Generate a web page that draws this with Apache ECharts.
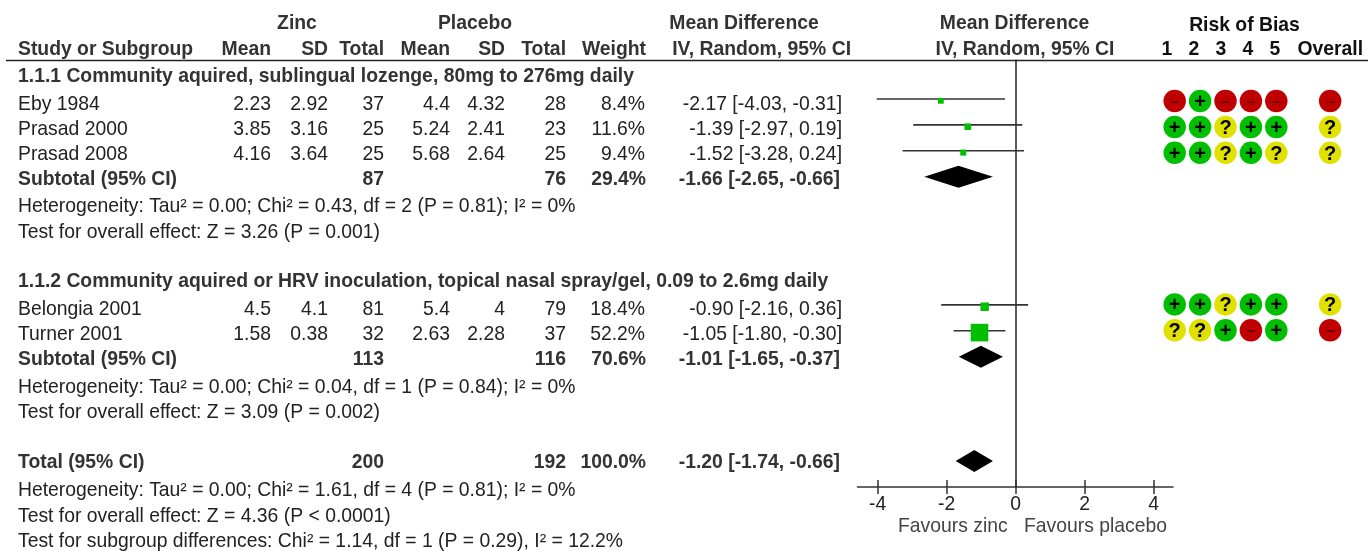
<!DOCTYPE html>
<html><head><meta charset="utf-8">
<style>html,body{margin:0;padding:0;background:#fff}#c{width:1368px;height:551px}</style>
<script src="https://cdn.jsdelivr.net/npm/echarts@6/dist/echarts.min.js"></script>
</head><body><div id="c"></div>
<script>
// ---------- data ----------
const studies = ['Eby 1984','Prasad 2000','Prasad 2008','Belongia 2001','Turner 2001'];
const zincMean = ['2.23','3.85','4.16','4.5','1.58'];
const zincSD = ['2.92','3.16','3.64','4.1','0.38'];
const zincTotal = ['37','25','25','81','32'];
const placeboMean = ['4.4','5.24','5.68','5.4','2.63'];
const placeboSD = ['4.32','2.41','2.64','4','2.28'];
const placeboTotal = ['28','23','25','79','37'];
const weights = [8.4,11.6,9.4,18.4,52.2];
const md = [-2.17,-1.39,-1.52,-0.90,-1.05];
const ciLow = [-4.03,-2.97,-3.28,-2.16,-1.80];
const ciHigh = [-0.31,0.19,0.24,0.36,-0.30];
const ciText = ['-2.17 [-4.03, -0.31]','-1.39 [-2.97, 0.19]','-1.52 [-3.28, 0.24]','-0.90 [-2.16, 0.36]','-1.05 [-1.80, -0.30]'];
const studyRows = [0,1,2,7.95,8.95];
const summaryLabels = ['Subtotal (95% CI)','Subtotal (95% CI)','Total (95% CI)'];
const summaryZinc = ['87','113','200'];
const summaryPlacebo = ['76','116','192'];
const summaryWeight = ['29.4%','70.6%','100.0%'];
const summaryMd = [-1.66,-1.01,-1.20];
const summaryLow = [-2.65,-1.65,-1.74];
const summaryHigh = [-0.66,-0.37,-0.66];
const summaryText = ['-1.66 [-2.65, -0.66]','-1.01 [-1.65, -0.37]','-1.20 [-1.74, -0.66]'];
const summaryRows = [3,9.95,13.98];
const groupTitles = ['1.1.1 Community aquired, sublingual lozenge, 80mg to 276mg daily','1.1.2 Community aquired or HRV inoculation, topical nasal spray/gel, 0.09 to 2.6mg daily'];
const notes = ['Heterogeneity: Tau² = 0.00; Chi² = 0.43, df = 2 (P = 0.81); I² = 0%','Test for overall effect: Z = 3.26 (P = 0.001)','Heterogeneity: Tau² = 0.00; Chi² = 0.04, df = 1 (P = 0.84); I² = 0%','Test for overall effect: Z = 3.09 (P = 0.002)','Heterogeneity: Tau² = 0.00; Chi² = 1.61, df = 4 (P = 0.81); I² = 0%','Test for overall effect: Z = 4.36 (P < 0.0001)','Test for subgroup differences: Chi² = 1.14, df = 1 (P = 0.29), I² = 12.2%'];
const axisTicks = [-4,-2,0,2,4];
const robHeaders = ['1','2','3','4','5','Overall'];
const robColumns = [1,2,3,4,5,7.12];
const robRows = [0.08,1.08,2.08,7.93,8.93];
const robJudgements = [
  ['-','+','-','-','-','-'],
  ['+','+','?','+','+','?'],
  ['+','+','?','+','?','?'],
  ['+','+','?','+','+','?'],
  ['?','?','+','-','+','-']
];
// ---------- layout ----------
const FONT = '"Liberation Sans", Arial, sans-serif';
const FS = 19.35;
const TXT = '#222', BOLD = '#333';
const ROW_PITCH = 25.9, ROW0 = 99, GRID_TOP = 60, GRID_BOTTOM = 487;
const rowMin = (GRID_TOP-ROW0)/ROW_PITCH, rowMax = (GRID_BOTTOM-ROW0)/ROW_PITCH;
const textStudyY = [105,130,155,310,335];
const textSummaryY = [179.5,359.5,462.5];
const textNoteY = [207,233,388,413,491,517,542];
const textGroupY = [76.5,281.5];
const colRight = {zm:271,zs:328,zt:384,pm:450,ps:505,pt:566,w:646,ci:842};
const els = [];
function t(s,x,y,align,bold,color,size){
  els.push({type:'text',silent:true,x:x,y:y,style:{text:s,x:0,y:0,align:align||'left',verticalAlign:'middle',
    font:(bold?'bold ':'')+(size||FS)+'px '+FONT,fill:color||(bold?BOLD:TXT)}});
}
// header
t('Zinc',297,23.5,'center',true); t('Placebo',475,23.5,'center',true);
t('Mean Difference',744,23.5,'center',true); t('Mean Difference',1014.5,23.5,'center',true);
t('Risk of Bias',1244.5,26,'center',true,'#111');
t('Study or Subgroup',18,49.5,'left',true);
[['Mean',colRight.zm],['SD',colRight.zs],['Total',colRight.zt],['Mean',colRight.pm],['SD',colRight.ps],['Total',colRight.pt],['Weight',646]]
  .forEach(h=>t(h[0],h[1],49.5,'right',true));
t('IV, Random, 95% CI',851,49.5,'right',true); t('IV, Random, 95% CI',1025,49.5,'center',true);
robHeaders.forEach((h,i)=>t(h,i<5?1167+i*27:1363,50,i<5?'center':'right',true,'#111'));
// group titles
groupTitles.forEach((g,i)=>t(g,18,textGroupY[i],'left',true));
// studies
studies.forEach((s,i)=>{const y=textStudyY[i];
  t(s,18,y);
  t(zincMean[i],colRight.zm,y,'right'); t(zincSD[i],colRight.zs,y,'right'); t(zincTotal[i],colRight.zt,y,'right');
  t(placeboMean[i],colRight.pm,y,'right'); t(placeboSD[i],colRight.ps,y,'right'); t(placeboTotal[i],colRight.pt,y,'right');
  t(weights[i].toFixed(1)+'%',colRight.w-1,y,'right'); t(ciText[i],colRight.ci,y,'right');
});
summaryLabels.forEach((s,i)=>{const y=textSummaryY[i];
  t(s,18,y,'left',true); t(summaryZinc[i],colRight.zt,y,'right',true); t(summaryPlacebo[i],colRight.pt,y,'right',true);
  t(summaryWeight[i],colRight.w,y,'right',true); t(summaryText[i],840,y,'right',true);
});
notes.forEach((n,i)=>t(n,18,textNoteY[i]));
t('Favours zinc',898,527,'left',false,'#444'); t('Favours placebo',1024,527,'left',false,'#444');
// header rule
els.push({type:'line',silent:true,shape:{x1:6,y1:60.5,x2:1368,y2:60.5},style:{stroke:'#222',lineWidth:1.6}});

const robColor = {'+':'#00bf00','?':'#e1e100','-':'#c00000'};
const robData=[];
robJudgements.forEach((r,ri)=>r.forEach((j,ci)=>robData.push([robColumns[ci],robRows[ri],j])));

const option = {
  animation:false,
  backgroundColor:'#fff',
  textStyle:{fontFamily:FONT},
  graphic:{elements:els},
  grid:[
    {left:857.5,width:315.5,top:GRID_TOP,height:GRID_BOTTOM-GRID_TOP,containLabel:false},
    {left:1174.7-25.4*0.5,width:25.4*7.12,top:GRID_TOP,height:GRID_BOTTOM-GRID_TOP,containLabel:false}
  ],
  xAxis:[
    {gridIndex:0,type:'value',min:-4.586,max:4.559,position:'bottom',
      axisLine:{onZero:false,show:true,lineStyle:{color:'#333',width:1.6}},
      axisTick:{show:true,length:7,customValues:axisTicks,lineStyle:{color:'#333',width:1.5}},
      axisLabel:{show:true,customValues:axisTicks,color:'#222',fontSize:FS,margin:8,fontFamily:FONT},
      splitLine:{show:false}},
    {gridIndex:0,type:'value',min:-4.586,max:4.559,position:'bottom',
      axisLine:{onZero:false,show:false},
      axisTick:{show:true,inside:true,length:7,customValues:axisTicks,lineStyle:{color:'#333',width:1.5}},
      axisLabel:{show:false},splitLine:{show:false}},
    {gridIndex:1,type:'value',min:0.5,max:7.62,show:false}
  ],
  yAxis:[
    {gridIndex:0,type:'value',inverse:true,min:rowMin,max:rowMax,
      axisLine:{show:true,onZero:true,lineStyle:{color:'#333',width:1.6}},
      axisTick:{show:false},axisLabel:{show:false},splitLine:{show:false}},
    {gridIndex:1,type:'value',inverse:true,min:rowMin,max:rowMax,show:false}
  ],
  series:[
    {type:'custom',name:'CI',xAxisIndex:0,yAxisIndex:0,silent:true,clip:false,
      data:studies.map((s,i)=>[ciLow[i],ciHigh[i],studyRows[i]]),
      renderItem:(p,api)=>{const a=api.coord([api.value(0),api.value(2)]),b=api.coord([api.value(1),api.value(2)]);
        return {type:'line',shape:{x1:a[0],y1:a[1],x2:b[0],y2:b[1]},style:{stroke:'#333',lineWidth:1.6}};}},
    {type:'custom',name:'Effect',xAxisIndex:0,yAxisIndex:0,silent:true,clip:false,z:3,
      data:studies.map((s,i)=>[md[i],studyRows[i],weights[i]]),
      renderItem:(p,api)=>{const c=api.coord([api.value(0),api.value(1)]),sz=api.value(2)*0.27+3.5;
        return {type:'rect',shape:{x:c[0]-sz/2,y:c[1]+1.8-sz/2,width:sz,height:sz},style:{fill:'#00bf00'}};}},
    {type:'custom',name:'Summary',xAxisIndex:0,yAxisIndex:0,silent:true,clip:false,z:3,
      data:summaryMd.map((m,i)=>[summaryLow[i],m,summaryHigh[i],summaryRows[i]]),
      renderItem:(p,api)=>{const y=api.value(3),h=11;
        const l=api.coord([api.value(0),y]),m=api.coord([api.value(1),y]),r=api.coord([api.value(2),y]);
        return {type:'polygon',shape:{points:[[l[0],l[1]],[m[0],m[1]-h],[r[0],r[1]],[m[0],m[1]+h]]},style:{fill:'#000'}};}},
    {type:'scatter',name:'Risk of bias',xAxisIndex:2,yAxisIndex:1,silent:true,symbol:'circle',symbolSize:22.5,z:4,
      data:robData.map(d=>({value:[d[0],d[1]],itemStyle:{color:robColor[d[2]],opacity:1},
        label:{show:true,position:'inside',offset:[0,1.5],formatter:d[2]==='-'?'–':d[2],color:d[2]==='-'?'#600':'#000',
          fontWeight:'bold',fontSize:d[2]==='-'?16:20,fontFamily:FONT}}))}
  ]
};
const chart=echarts.init(document.getElementById('c'),null,{renderer:'canvas'});
chart.setOption(option);
</script></body></html>
